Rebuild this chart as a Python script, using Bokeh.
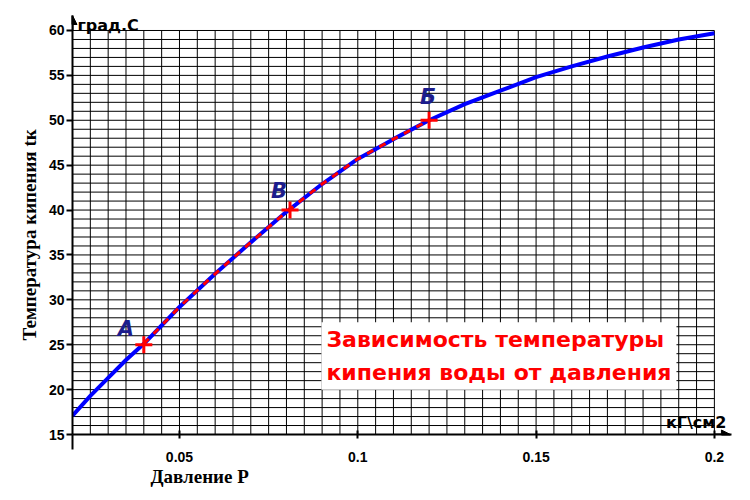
import numpy as np
from bokeh.plotting import figure
from bokeh.models import ColumnDataSource, FixedTicker, Label, Arrow, NormalHead, Title
from bokeh.core.properties import value
from bokeh.embed import file_html
from bokeh.resources import INLINE

# data
pressure = [0.02, 0.025, 0.03, 0.035, 0.04, 0.05, 0.06, 0.07, 0.08, 0.09, 0.10,
            0.11, 0.12, 0.13, 0.14, 0.15, 0.16, 0.17, 0.18, 0.19, 0.20]
temperature = [17.1, 19.3, 21.3, 23.3, 25.1, 29.2, 32.9, 36.4, 39.8, 42.9, 45.7,
               47.9, 50.0, 51.8, 53.3, 54.8, 56.0, 57.1, 58.1, 59.0, 59.7]
point_names = ["А", "В", "Б"]
point_p = [0.04, 0.081, 0.12]
point_t = [25.0, 40.0, 50.0]
x_ticks = [0.05, 0.1, 0.15, 0.2]
x_tick_labels = ["0.05", "0.1", "0.15", "0.2"]
y_ticks = [15, 20, 25, 30, 35, 40, 45, 50, 55, 60]

X0, X1 = 0.02, 0.2
Y0, Y1 = 15, 60

p = figure(frame_width=659, frame_height=419, output_backend="svg", toolbar_location=None,
           x_range=(X0, 0.2048), y_range=(Y0, 61.67),
           min_border_left=72, min_border_right=3, min_border_top=15, min_border_bottom=54)
p.outline_line_color = None
p.xgrid.visible = False
p.ygrid.visible = False
p.background_fill_color = "white"

# grid lines
gx = np.round(np.arange(0.025, 0.2001, 0.005), 4)
gy = np.arange(16, 61, 1)
p.segment(x0=gx, y0=[Y0] * len(gx), x1=gx, y1=[Y1] * len(gx), line_color="black", line_width=1)
p.segment(x0=[X0] * len(gy), y0=gy, x1=[X1] * len(gy), y1=gy, line_color="black", line_width=1)

# axes
for ax in (p.xaxis[0], p.yaxis[0]):
    ax.axis_line_width = 2
    ax.axis_line_color = "black"
    ax.major_tick_line_width = 2
    ax.major_tick_line_color = "black"
    ax.major_label_text_font = "Liberation Sans"
    ax.major_label_text_font_style = "bold"
    ax.major_label_text_font_size = "14px"
    ax.major_label_text_color = "black"

p.xaxis.ticker = FixedTicker(ticks=x_ticks, minor_ticks=[X0])
p.xaxis.major_label_overrides = dict(zip(x_ticks, x_tick_labels))
p.xaxis.major_tick_in = 4
p.xaxis.major_tick_out = 4
p.xaxis.minor_tick_in = 0
p.xaxis.minor_tick_out = 15
p.xaxis.minor_tick_line_width = 2
p.xaxis.minor_tick_line_color = "black"
p.xaxis.major_label_standoff = 2

p.yaxis.ticker = FixedTicker(ticks=y_ticks, minor_ticks=[])
p.yaxis.major_tick_in = 0
p.yaxis.major_tick_out = 6
p.yaxis.major_label_standoff = 2

# axis titles
p.add_layout(Title(text="Давление P", align="left", offset=78, standoff=-2,
                   text_font="Liberation Serif", text_font_style="bold",
                   text_font_size="19px", text_color="black"), "below")
p.add_layout(Title(text="Температура кипения tк", align="left", offset=94, standoff=11,
                   text_font="Liberation Serif", text_font_style="bold",
                   text_font_size="19px", text_color="black"), "left")

# arrow heads
p.add_layout(Arrow(x_start=X0, y_start=Y1, x_end=X0, y_end=61.67, line_width=2,
                   end=NormalHead(size=9, fill_color="black", line_color="black")))
p.add_layout(Arrow(x_start=X1, y_start=Y0, x_end=0.2045, y_end=Y0, line_width=2,
                   end=NormalHead(size=9, fill_color="black", line_color="black")))

# curve
p.line(pressure, temperature, line_color="#0000ff", line_width=4)
seg = [(x, y) for x, y in zip(pressure, temperature) if point_p[0] <= x <= point_p[-1]]
p.line([s[0] for s in seg], [s[1] for s in seg], line_color="#ff0000", line_width=3,
       line_dash="7 7")
p.scatter(point_p, point_t, marker="cross", size=17, line_color="#ff0000", line_width=3)

src = ColumnDataSource(dict(x=point_p, y=point_t, t=point_names,
                            dx=[-18, -11, -1], dy=[-16, -19, -23]))
p.text(x="x", y="y", text="t", source=src, x_offset="dx", y_offset="dy",
       text_align="center", text_baseline="middle", text_color="#1c1c8c",
       text_font=value("DejaVu Sans"), text_font_style="bold italic", text_font_size="21px")

# unit labels
p.add_layout(Label(x=X0, y=61.7, text="град.С", x_offset=5, y_offset=-1, text_align="left",
                   text_baseline="top", text_font="DejaVu Sans", text_font_style="bold",
                   text_font_size="16px", text_color="black"))
p.add_layout(Label(x=0.2048, y=Y0, text="кГ\\см2", x_offset=-5, y_offset=3, text_align="right",
                   text_baseline="bottom", text_font="DejaVu Sans", text_font_style="bold",
                   text_font_size="16px", text_color="black"))

# chart caption
p.add_layout(Label(x=0.0898, y=27.5, text="Зависимость температуры\nкипения воды от давления",
                   text_align="left", text_baseline="top", text_font="DejaVu Sans",
                   text_font_style="bold", text_font_size="22px", text_color="#ff0000",
                   text_line_height=1.3,
                   background_fill_color="white", padding=5))

open("out.html", "w").write(file_html(p, INLINE))
